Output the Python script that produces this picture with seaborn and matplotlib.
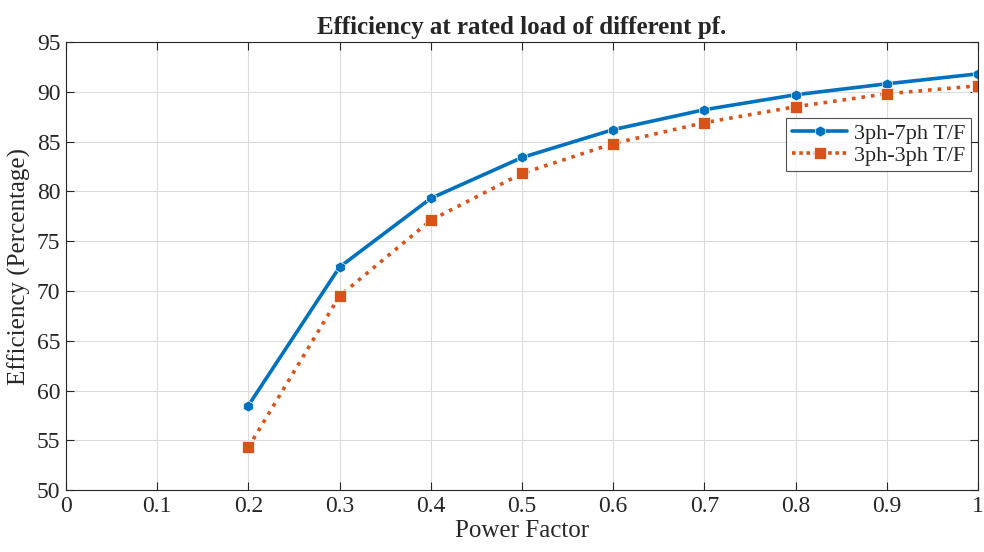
import matplotlib
matplotlib.use('Agg')
import matplotlib.pyplot as plt
import pandas as pd
import seaborn as sns

# Values.
power_factor = [0.2, 0.3, 0.4, 0.5, 0.6, 0.7, 0.8, 0.9, 1.0]
eff_7ph = [58.5, 72.4, 79.3, 83.4, 86.2, 88.2, 89.7, 90.8, 91.8]
eff_3ph = [54.3, 69.5, 77.1, 81.8, 84.8, 86.9, 88.5, 89.8, 90.6]
series_names = ['3ph-7ph T/F', '3ph-3ph T/F']

data_df = pd.DataFrame({
    'Power Factor': power_factor * 2,
    'Efficiency': eff_7ph + eff_3ph,
    'Series': [series_names[0]] * len(power_factor) + [series_names[1]] * len(power_factor),
})

sns.set_theme(style='white')
plt.rcParams['font.family'] = ['Liberation Serif', 'DejaVu Serif']

fig = plt.figure(figsize=(9.84, 5.52), dpi=100)
ax = fig.add_axes([0.067, 0.112, 0.927, 0.812])

sns.lineplot(data=data_df, x='Power Factor', y='Efficiency', hue='Series',
             style='Series', palette=['#0072BD', '#D95319'],
             markers=['h', 's'], dashes=[(None, None), (1, 1)],
             markersize=8, linewidth=2.6, markeredgewidth=0.5, ax=ax)

# dotted line style for second series
ax.lines[1].set_linestyle(':')

ax.set_xlim(0, 1)
ax.set_ylim(50, 95)
ax.set_xticks([0, 0.1, 0.2, 0.3, 0.4, 0.5, 0.6, 0.7, 0.8, 0.9, 1.0])
ax.set_xticklabels(['0', '0.1', '0.2', '0.3', '0.4', '0.5', '0.6', '0.7', '0.8', '0.9', '1'])
ax.set_yticks(range(50, 96, 5))
ax.grid(True, color='#dcdcdc', linewidth=0.8)
ax.tick_params(direction='in', length=6, width=0.8, labelsize=17, colors='#262626',
               top=True, right=True, bottom=True, left=True, pad=4)
for spine in ax.spines.values():
    spine.set_color('#262626')
    spine.set_linewidth(0.8)

ax.set_xlabel('Power Factor', fontsize=18, color='#262626', labelpad=2)
ax.set_ylabel('Efficiency (Percentage)', fontsize=18, color='#262626', labelpad=4)
ax.set_title('Efficiency at rated load of different pf.', fontsize=18,
             fontweight='bold', pad=6)

leg = ax.legend(loc='upper right', bbox_to_anchor=(0.997, 0.84), fontsize=16,
                frameon=True, fancybox=False, edgecolor='#262626',
                handlelength=2.5, handletextpad=0.3, borderpad=0.25,
                labelspacing=0.05, borderaxespad=0.2)
leg.get_frame().set_linewidth(0.8)

plt.savefig('out.png', dpi=100)
